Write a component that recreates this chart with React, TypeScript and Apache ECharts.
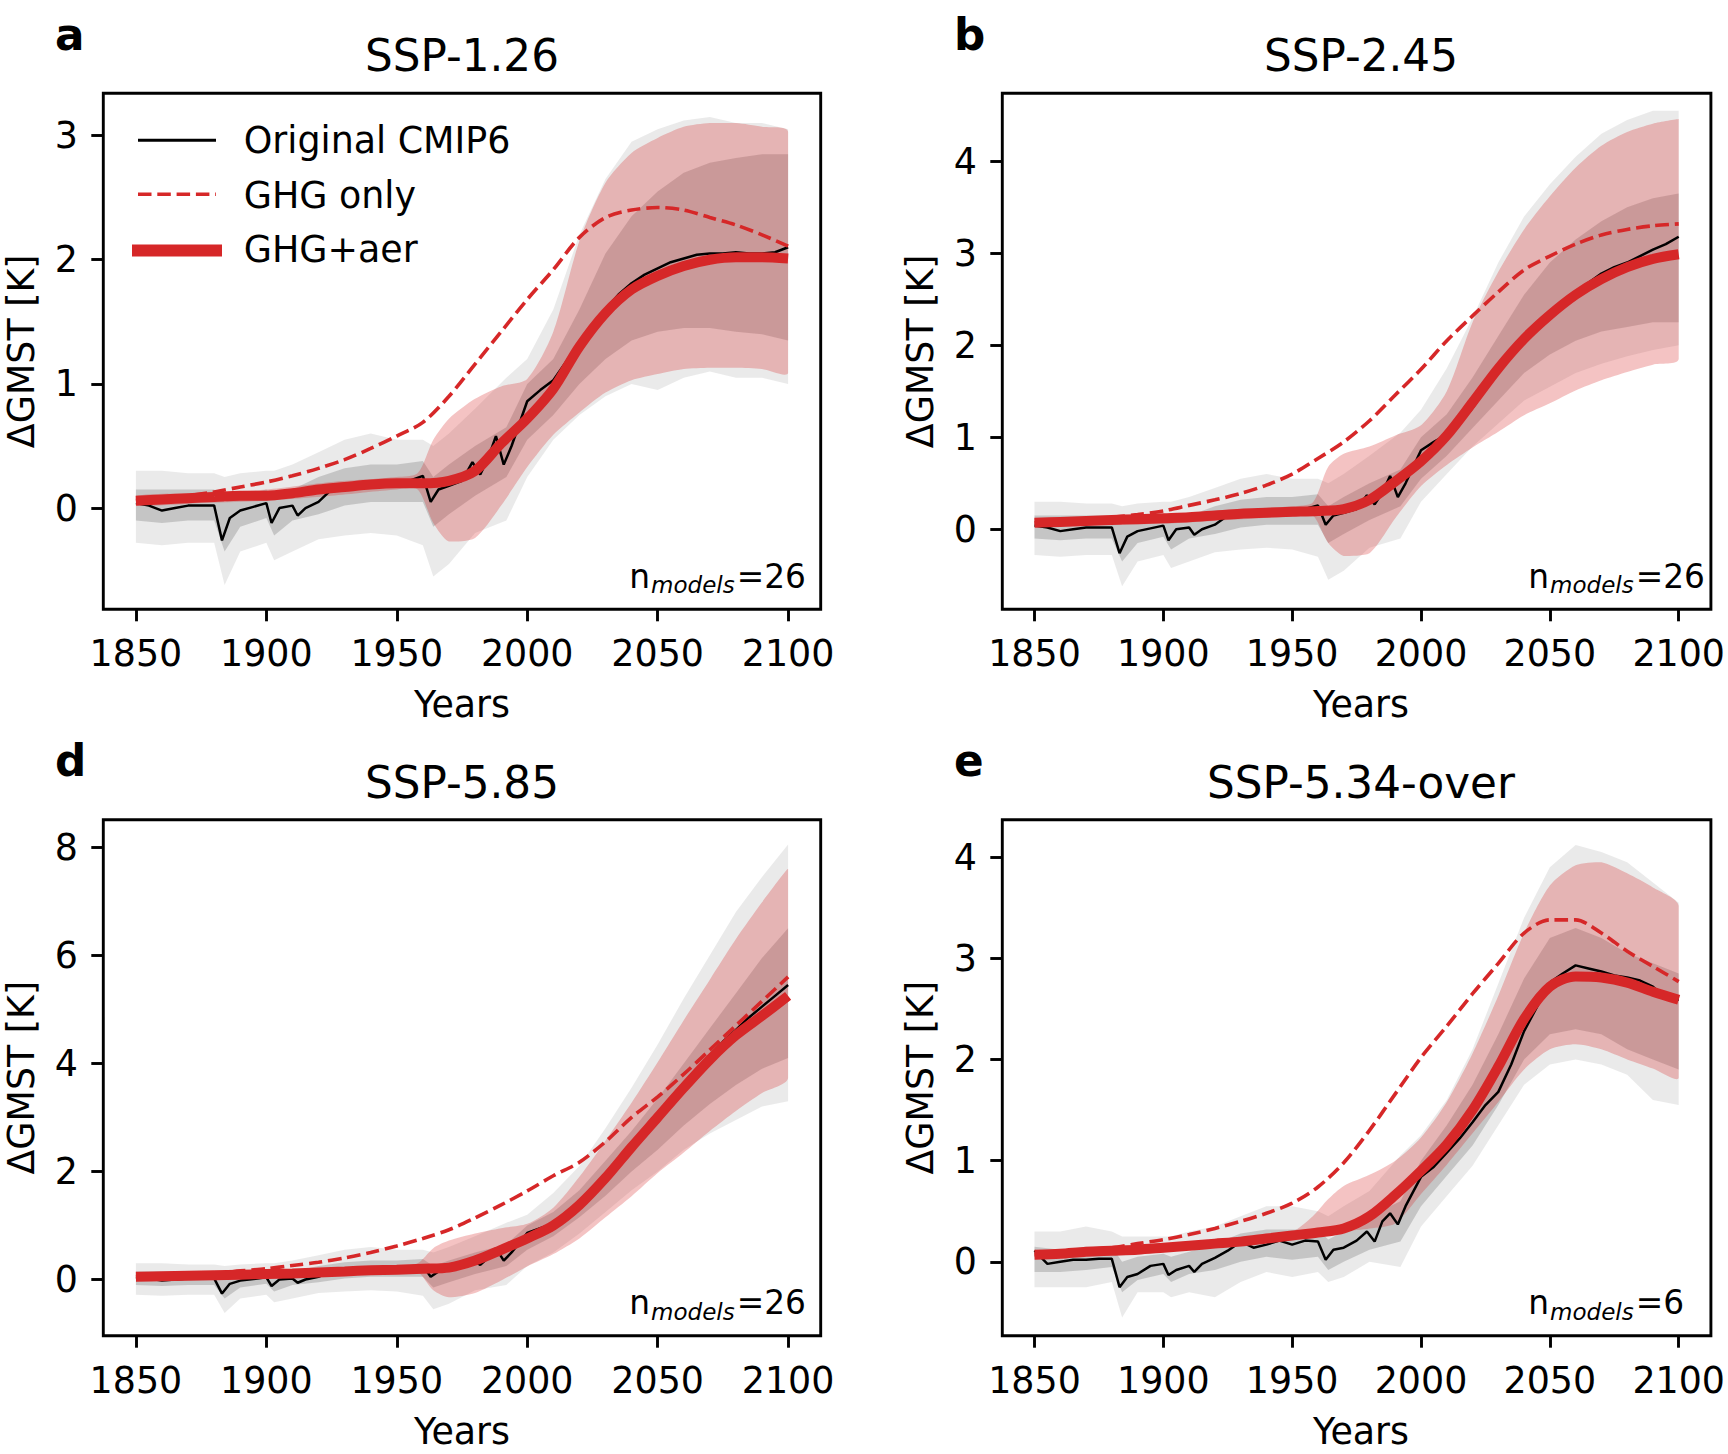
import React, { useEffect, useRef } from "react";
import * as echarts from "echarts";

const W = 1728;
const H = 1454;
const FONT = '"DejaVu Sans", "Liberation Sans", sans-serif';
const RED = "#d62728";

// ---------- axes ----------
const X_MIN = 1837.5;
const X_MAX = 2112.5;
const X_TICKS = [1850, 1900, 1950, 2000, 2050, 2100];

// ---------- shared year grids ----------
const SMOOTH_YEARS = [1850, 1860, 1870, 1880, 1890, 1900, 1910, 1920, 1930, 1940, 1950, 1960, 1970, 1980, 1990, 2000, 2010, 2020, 2030, 2040, 2050, 2060, 2070, 2080, 2090, 2100];
const BAND_YEARS = [1850, 1875, 1900, 1925, 1950, 1958, 1964, 1970, 1980, 1990, 2000, 2010, 2020, 2030, 2040, 2050, 2060, 2070, 2080, 2090, 2100];
const GRAY_YEARS_HIST = [1850, 1860, 1870, 1880, 1884, 1890, 1900, 1903, 1910, 1920, 1930, 1940, 1950, 1960, 1964, 1970, 1980, 1992];
const GRAY_YEARS_FUT = [2000, 2010, 2020, 2030, 2040, 2050, 2060, 2070, 2080, 2090, 2100];
const BLACK_YEARS_HIST = [1850, 1855, 1860, 1865, 1870, 1875, 1880, 1883, 1886, 1890, 1895, 1900, 1902, 1905, 1910, 1912, 1915, 1920, 1925, 1930, 1935, 1940, 1945, 1950, 1955, 1960, 1963, 1966, 1970, 1975, 1979, 1982, 1985, 1988, 1991, 1994, 2000, 2005, 2010];
const BLACK_YEARS_FUT = [2015, 2020, 2025, 2030, 2035, 2040, 2045, 2050, 2055, 2060, 2065, 2070, 2075, 2080, 2085, 2090, 2095, 2100];

// ---------- Original CMIP6 (black) ----------
const BLACK_HIST_26 = [0.04, 0.02, -0.02, 0.0, 0.02, 0.02, 0.02, -0.26, -0.08, -0.02, 0.01, 0.04, -0.12, 0.0, 0.02, -0.06, 0.0, 0.05, 0.15, 0.17, 0.18, 0.19, 0.19, 0.21, 0.22, 0.26, 0.05, 0.15, 0.18, 0.22, 0.37, 0.27, 0.4, 0.58, 0.35, 0.5, 0.86, 0.95, 1.03];
const BLACK_FUT_126 = [1.18, 1.33, 1.48, 1.6, 1.72, 1.81, 1.88, 1.93, 1.98, 2.01, 2.04, 2.05, 2.05, 2.06, 2.05, 2.05, 2.06, 2.1];
const BLACK_FUT_245 = [1.15, 1.32, 1.52, 1.72, 1.9, 2.05, 2.2, 2.33, 2.46, 2.58, 2.68, 2.78, 2.85, 2.9, 2.97, 3.04, 3.1, 3.18];
const BLACK_FUT_585 = [1.15, 1.35, 1.6, 1.88, 2.15, 2.45, 2.75, 3.05, 3.35, 3.62, 3.9, 4.15, 4.4, 4.62, 4.85, 5.05, 5.25, 5.45];
const BLACK_HIST_6 = [0.11, -0.02, 0.0, 0.02, 0.02, 0.03, 0.03, -0.25, -0.15, -0.12, -0.04, -0.02, -0.13, -0.08, -0.04, -0.1, -0.02, 0.04, 0.11, 0.2, 0.14, 0.17, 0.21, 0.17, 0.21, 0.2, 0.02, 0.12, 0.14, 0.21, 0.3, 0.2, 0.4, 0.48, 0.37, 0.55, 0.84, 0.94, 1.08];
const BLACK_FUT_534 = [1.22, 1.38, 1.55, 1.68, 1.95, 2.28, 2.52, 2.76, 2.85, 2.93, 2.9, 2.87, 2.83, 2.81, 2.78, 2.72, 2.6, 2.59];

// ---------- GHG only (dashed) ----------
const GHG_126 = [0.06, 0.08, 0.1, 0.13, 0.17, 0.21, 0.26, 0.32, 0.39, 0.48, 0.58, 0.69, 0.9, 1.16, 1.42, 1.68, 1.92, 2.18, 2.34, 2.4, 2.42, 2.4, 2.34, 2.28, 2.2, 2.11];
const GHG_245 = [0.07, 0.09, 0.11, 0.13, 0.16, 0.2, 0.26, 0.32, 0.39, 0.48, 0.6, 0.77, 0.95, 1.18, 1.46, 1.74, 2.05, 2.32, 2.58, 2.82, 2.97, 3.1, 3.2, 3.26, 3.3, 3.32];
const GHG_585 = [0.05, 0.07, 0.09, 0.11, 0.16, 0.2, 0.26, 0.32, 0.4, 0.5, 0.62, 0.76, 0.92, 1.14, 1.38, 1.64, 1.92, 2.17, 2.55, 3.0, 3.38, 3.8, 4.25, 4.7, 5.15, 5.6];
const GHG_534 = [0.07, 0.09, 0.12, 0.14, 0.18, 0.22, 0.27, 0.33, 0.4, 0.48, 0.58, 0.74, 0.98, 1.3, 1.66, 2.02, 2.33, 2.65, 2.95, 3.25, 3.38, 3.38, 3.25, 3.07, 2.92, 2.77];

// ---------- GHG+aer (thick red) ----------
const AER_126 = [0.06, 0.07, 0.08, 0.09, 0.1, 0.1, 0.12, 0.15, 0.17, 0.19, 0.2, 0.2, 0.22, 0.3, 0.52, 0.72, 0.96, 1.3, 1.57, 1.76, 1.87, 1.95, 2.0, 2.02, 2.02, 2.01];
const AER_245 = [0.07, 0.08, 0.09, 0.1, 0.11, 0.12, 0.13, 0.15, 0.17, 0.18, 0.19, 0.2, 0.22, 0.32, 0.52, 0.74, 1.02, 1.38, 1.75, 2.07, 2.33, 2.55, 2.72, 2.85, 2.94, 2.99];
const AER_585 = [0.05, 0.06, 0.07, 0.08, 0.09, 0.1, 0.11, 0.13, 0.15, 0.17, 0.18, 0.2, 0.22, 0.35, 0.55, 0.76, 1.0, 1.38, 1.88, 2.45, 3.0, 3.55, 4.07, 4.52, 4.88, 5.25];
const AER_534 = [0.07, 0.08, 0.1, 0.11, 0.12, 0.14, 0.16, 0.18, 0.2, 0.23, 0.26, 0.29, 0.33, 0.45, 0.66, 0.9, 1.16, 1.5, 1.93, 2.4, 2.72, 2.82, 2.81, 2.76, 2.67, 2.59];

// ---------- GHG+aer spread (pink band) ----------
const BAND_LO_126 = [0.02, 0.04, 0.06, 0.1, 0.15, 0.15, -0.12, -0.27, -0.24, 0.02, 0.33, 0.59, 0.77, 0.93, 1.03, 1.08, 1.12, 1.13, 1.13, 1.12, 1.09];
const BAND_HI_126 = [0.1, 0.12, 0.15, 0.21, 0.25, 0.28, 0.55, 0.72, 0.88, 0.98, 1.04, 1.42, 2.15, 2.62, 2.86, 2.98, 3.07, 3.1, 3.1, 3.07, 3.03];
const BAND_LO_245 = [0.03, 0.05, 0.06, 0.1, 0.14, 0.15, -0.15, -0.29, -0.26, 0.12, 0.47, 0.7, 0.89, 1.06, 1.24, 1.37, 1.51, 1.62, 1.71, 1.79, 1.85];
const BAND_HI_245 = [0.11, 0.13, 0.16, 0.21, 0.25, 0.29, 0.68, 0.82, 0.9, 1.02, 1.13, 1.5, 2.25, 2.8, 3.26, 3.62, 3.93, 4.17, 4.32, 4.41, 4.46];
const BAND_LO_585 = [0.0, 0.02, 0.04, 0.08, 0.12, 0.14, -0.2, -0.33, -0.25, -0.02, 0.24, 0.47, 0.76, 1.15, 1.54, 1.97, 2.35, 2.75, 3.12, 3.45, 3.73];
const BAND_HI_585 = [0.1, 0.12, 0.15, 0.2, 0.25, 0.3, 0.58, 0.72, 0.85, 0.95, 1.03, 1.33, 1.9, 2.57, 3.27, 4.02, 4.8, 5.55, 6.3, 6.98, 7.6];
const BAND_LO_534 = [0.05, 0.09, 0.13, 0.18, 0.24, 0.25, 0.27, 0.3, 0.33, 0.38, 0.67, 0.96, 1.27, 1.58, 1.9, 2.1, 2.15, 2.1, 2.0, 1.91, 1.82];
const BAND_HI_534 = [0.1, 0.13, 0.17, 0.22, 0.3, 0.45, 0.62, 0.75, 0.86, 1.0, 1.23, 1.58, 2.06, 2.63, 3.25, 3.72, 3.92, 3.95, 3.84, 3.7, 3.52];

// ---------- individual models (gray cloud: outer envelope and dense core) ----------
const GRAY_OUT_LO_HIST_26 = [-0.28, -0.3, -0.28, -0.28, -0.62, -0.35, -0.28, -0.42, -0.35, -0.25, -0.22, -0.2, -0.22, -0.3, -0.55, -0.45, -0.2, -0.1];
const GRAY_OUT_HI_HIST_26 = [0.3, 0.3, 0.28, 0.28, 0.25, 0.28, 0.3, 0.3, 0.35, 0.45, 0.55, 0.6, 0.55, 0.55, 0.5, 0.6, 0.8, 1.05];
const GRAY_IN_LO_HIST_26 = [-0.1, -0.12, -0.1, -0.1, -0.35, -0.15, -0.08, -0.22, -0.1, -0.05, 0.02, 0.05, 0.05, 0.05, -0.15, -0.05, 0.1, 0.25];
const GRAY_IN_HI_HIST_26 = [0.15, 0.15, 0.15, 0.15, 0.05, 0.1, 0.15, 0.08, 0.15, 0.25, 0.32, 0.35, 0.35, 0.38, 0.25, 0.35, 0.5, 0.65];
const GRAY_OUT_LO_HIST_6 = [-0.25, -0.25, -0.25, -0.2, -0.55, -0.3, -0.3, -0.35, -0.3, -0.35, -0.2, -0.1, -0.15, -0.1, -0.2, -0.15, 0.0, -0.05];
const GRAY_OUT_HI_HIST_6 = [0.3, 0.3, 0.35, 0.3, 0.25, 0.25, 0.25, 0.25, 0.3, 0.35, 0.45, 0.55, 0.55, 0.5, 0.45, 0.55, 0.7, 1.05];
const GRAY_IN_LO_HIST_6 = [-0.1, -0.1, -0.08, -0.05, -0.3, -0.18, -0.12, -0.2, -0.12, -0.08, 0.0, 0.05, 0.02, 0.05, -0.08, 0.0, 0.12, 0.2];
const GRAY_IN_HI_HIST_6 = [0.15, 0.12, 0.15, 0.15, 0.0, 0.05, 0.08, 0.05, 0.1, 0.18, 0.28, 0.32, 0.32, 0.32, 0.22, 0.3, 0.45, 0.6];

const GRAY_OUT_LO_126 = [0.25, 0.55, 0.75, 0.9, 1.0, 0.95, 1.05, 1.1, 1.05, 1.05, 1.0];
const GRAY_OUT_HI_126 = [1.2, 1.6, 2.2, 2.65, 2.95, 3.05, 3.12, 3.15, 3.1, 3.1, 3.05];
const GRAY_IN_LO_126 = [0.55, 0.75, 1.0, 1.2, 1.35, 1.42, 1.45, 1.45, 1.42, 1.4, 1.35];
const GRAY_IN_HI_126 = [1.0, 1.2, 1.6, 2.05, 2.35, 2.55, 2.7, 2.78, 2.82, 2.85, 2.85];
const GRAY_OUT_LO_245 = [0.3, 0.6, 0.9, 1.15, 1.4, 1.55, 1.7, 1.8, 1.88, 1.95, 2.0];
const GRAY_OUT_HI_245 = [1.3, 1.75, 2.3, 2.9, 3.4, 3.75, 4.05, 4.3, 4.45, 4.55, 4.55];
const GRAY_IN_LO_245 = [0.55, 0.8, 1.1, 1.4, 1.7, 1.9, 2.05, 2.15, 2.2, 2.25, 2.25];
const GRAY_IN_HI_245 = [1.0, 1.25, 1.65, 2.1, 2.55, 2.9, 3.15, 3.35, 3.5, 3.6, 3.65];
const GRAY_OUT_LO_585 = [0.25, 0.5, 0.85, 1.25, 1.65, 2.0, 2.4, 2.7, 2.95, 3.2, 3.3];
const GRAY_OUT_HI_585 = [1.2, 1.6, 2.1, 2.8, 3.55, 4.35, 5.2, 6.0, 6.8, 7.45, 8.05];
const GRAY_IN_LO_585 = [0.55, 0.8, 1.15, 1.55, 2.0, 2.4, 2.85, 3.25, 3.6, 3.9, 4.1];
const GRAY_IN_HI_585 = [1.0, 1.25, 1.65, 2.2, 2.75, 3.35, 4.0, 4.65, 5.3, 5.95, 6.5];
const GRAY_OUT_LO_534 = [0.35, 0.65, 0.95, 1.35, 1.75, 1.95, 2.0, 1.95, 1.85, 1.6, 1.55];
const GRAY_OUT_HI_534 = [1.25, 1.6, 2.1, 2.75, 3.4, 3.9, 4.12, 4.05, 3.95, 3.75, 3.55];
const GRAY_IN_LO_534 = [0.55, 0.85, 1.15, 1.55, 2.0, 2.25, 2.3, 2.25, 2.1, 2.0, 1.9];
const GRAY_IN_HI_534 = [1.0, 1.35, 1.75, 2.25, 2.8, 3.2, 3.3, 3.2, 3.05, 2.95, 2.85];

// ---------- panels ----------
const GRID_W = 717.4;
const GRID_H = 516;
const COL_LEFT = [103.3, 1002.3];
const ROW_TOP = [93.3, 819.7];

const PANELS = [
  {
    letter: "a", title: "SSP-1.26", col: 0, row: 0, yMin: -0.815, yMax: 3.34, yTicks: [0, 1, 2, 3], n: 26, legend: true,
    blackHist: BLACK_HIST_26, blackFut: BLACK_FUT_126, ghg: GHG_126, aer: AER_126, bandLo: BAND_LO_126, bandHi: BAND_HI_126,
    gOutLo: [GRAY_OUT_LO_HIST_26, GRAY_OUT_LO_126], gOutHi: [GRAY_OUT_HI_HIST_26, GRAY_OUT_HI_126],
    gInLo: [GRAY_IN_LO_HIST_26, GRAY_IN_LO_126], gInHi: [GRAY_IN_HI_HIST_26, GRAY_IN_HI_126],
  },
  {
    letter: "b", title: "SSP-2.45", col: 1, row: 0, yMin: -0.87, yMax: 4.74, yTicks: [0, 1, 2, 3, 4], n: 26, legend: false,
    blackHist: BLACK_HIST_26, blackFut: BLACK_FUT_245, ghg: GHG_245, aer: AER_245, bandLo: BAND_LO_245, bandHi: BAND_HI_245,
    gOutLo: [GRAY_OUT_LO_HIST_26, GRAY_OUT_LO_245], gOutHi: [GRAY_OUT_HI_HIST_26, GRAY_OUT_HI_245],
    gInLo: [GRAY_IN_LO_HIST_26, GRAY_IN_LO_245], gInHi: [GRAY_IN_HI_HIST_26, GRAY_IN_HI_245],
  },
  {
    letter: "d", title: "SSP-5.85", col: 0, row: 1, yMin: -1.04, yMax: 8.51, yTicks: [0, 2, 4, 6, 8], n: 26, legend: false,
    blackHist: BLACK_HIST_26, blackFut: BLACK_FUT_585, ghg: GHG_585, aer: AER_585, bandLo: BAND_LO_585, bandHi: BAND_HI_585,
    gOutLo: [GRAY_OUT_LO_HIST_26, GRAY_OUT_LO_585], gOutHi: [GRAY_OUT_HI_HIST_26, GRAY_OUT_HI_585],
    gInLo: [GRAY_IN_LO_HIST_26, GRAY_IN_LO_585], gInHi: [GRAY_IN_HI_HIST_26, GRAY_IN_HI_585],
  },
  {
    letter: "e", title: "SSP-5.34-over", col: 1, row: 1, yMin: -0.73, yMax: 4.37, yTicks: [0, 1, 2, 3, 4], n: 6, legend: false,
    blackHist: BLACK_HIST_6, blackFut: BLACK_FUT_534, ghg: GHG_534, aer: AER_534, bandLo: BAND_LO_534, bandHi: BAND_HI_534,
    gOutLo: [GRAY_OUT_LO_HIST_6, GRAY_OUT_LO_534], gOutHi: [GRAY_OUT_HI_HIST_6, GRAY_OUT_HI_534],
    gInLo: [GRAY_IN_LO_HIST_6, GRAY_IN_LO_534], gInHi: [GRAY_IN_HI_HIST_6, GRAY_IN_HI_534],
  },
];

const pairs = (xs: number[], ys: number[]) => xs.map((x, i) => [x, ys[i]]);

// filled region between two curves, drawn through the axis scales (api.coord)
function bandSeries(i: number, years: number[], lo: number[], hi: number[], color: string, smooth: number) {
  return {
    type: "custom", xAxisIndex: i, yAxisIndex: i, silent: true, clip: true,
    data: [[years[0], lo[0]]],
    renderItem: (_params: any, api: any) => {
      const pts: number[][] = [];
      for (let k = 0; k < years.length; k++) pts.push(api.coord([years[k], hi[k]]));
      for (let k = years.length - 1; k >= 0; k--) pts.push(api.coord([years[k], lo[k]]));
      let minX = Infinity, minY = Infinity, maxX = -Infinity, maxY = -Infinity;
      pts.forEach(([x, y]) => {
        minX = Math.min(minX, x); maxX = Math.max(maxX, x);
        minY = Math.min(minY, y); maxY = Math.max(maxY, y);
      });
      return {
        type: "polygon",
        shape: { points: pts, smooth, smoothConstraint: smooth ? [[minX, minY], [maxX, maxY]] : undefined },
        style: { fill: color, stroke: "none" },
      };
    },
  };
}

function textWidth(text: string, font: string) {
  const ctx = document.createElement("canvas").getContext("2d")!;
  ctx.font = font;
  return ctx.measureText(text).width;
}

function buildOption() {
  const grids: any[] = [];
  const xAxes: any[] = [];
  const yAxes: any[] = [];
  const series: any[] = [];
  const graphics: any[] = [];
  const grayYears = GRAY_YEARS_HIST.concat(GRAY_YEARS_FUT);
  const blackYears = BLACK_YEARS_HIST.concat(BLACK_YEARS_FUT);

  PANELS.forEach((p, i) => {
    const left = COL_LEFT[p.col];
    const top = ROW_TOP[p.row];
    grids.push({ left, top, width: GRID_W, height: GRID_H, show: true, borderColor: "#000", borderWidth: 2.9, backgroundColor: "transparent", containLabel: false });
    xAxes.push({
      type: "value", gridIndex: i, min: X_MIN, max: X_MAX, position: "bottom",
      axisLine: { show: false, onZero: false }, splitLine: { show: false },
      axisTick: { show: true, customValues: X_TICKS, length: 12, lineStyle: { color: "#000", width: 2.9 } },
      axisLabel: { customValues: X_TICKS, fontSize: 36.4, color: "#000", fontFamily: FONT, margin: 26.5, formatter: (v: number) => String(v) },
    });
    yAxes.push({
      type: "value", gridIndex: i, min: p.yMin, max: p.yMax, position: "left",
      axisLine: { show: false, onZero: false }, splitLine: { show: false },
      axisTick: { show: true, customValues: p.yTicks, length: 12, lineStyle: { color: "#000", width: 2.9 } },
      axisLabel: { customValues: p.yTicks, fontSize: 36.4, color: "#000", fontFamily: FONT, margin: 25.5, formatter: (v: number) => String(v) },
    });

    series.push(bandSeries(i, grayYears, p.gOutLo[0].concat(p.gOutLo[1]), p.gOutHi[0].concat(p.gOutHi[1]), "rgba(128,128,128,0.17)", 0));
    series.push(bandSeries(i, grayYears, p.gInLo[0].concat(p.gInLo[1]), p.gInHi[0].concat(p.gInHi[1]), "rgba(100,100,100,0.27)", 0));
    series.push(bandSeries(i, BAND_YEARS, p.bandLo, p.bandHi, "rgba(214,39,40,0.28)", 0.25));

    series.push({
      type: "line", xAxisIndex: i, yAxisIndex: i, symbol: "none", silent: true,
      data: pairs(blackYears, p.blackHist.concat(p.blackFut)),
      lineStyle: { color: "#000", width: 2.5 },
    });
    series.push({
      type: "line", xAxisIndex: i, yAxisIndex: i, symbol: "none", silent: true, smooth: 0.3,
      data: pairs(SMOOTH_YEARS, p.ghg),
      lineStyle: { color: RED, width: 3.6, type: [13.5, 5.8] },
    });
    series.push({
      type: "line", xAxisIndex: i, yAxisIndex: i, symbol: "none", silent: true, smooth: 0.3,
      data: pairs(SMOOTH_YEARS, p.aer),
      lineStyle: { color: RED, width: 10 },
    });

    const txt = (x: number, y: number, text: string, extra: any = {}, rotation = 0) => ({
      type: "text", x, y, rotation, silent: true,
      style: {
        text, fill: "#000", fontFamily: FONT, fontSize: 36.4,
        align: "center", verticalAlign: "middle", textAlign: "center", textVerticalAlign: "middle",
        ...extra,
      },
    });

    // title, panel letter, axis names
    graphics.push(txt(left + GRID_W / 2, top - 37.7, p.title, { fontSize: 43.7 }));
    graphics.push(txt(left - 48.3, top - 58.9, p.letter, { fontSize: 43.7, fontWeight: "bold", align: "left", textAlign: "left" }));
    graphics.push(txt(left - 82, top + GRID_H / 2, "ΔGMST [K]", {}, Math.PI / 2));
    graphics.push(txt(left + GRID_W / 2, top + GRID_H + 95.5, "Years"));

    // n_models annotation
    const fMain = 32.8;
    const fSub = 23;
    const base = top + GRID_H - 21;
    const x0 = left + 526;
    const wN = textWidth("n", `${fMain}px "DejaVu Sans"`);
    const wSub = textWidth("models", `italic ${fSub}px "DejaVu Sans"`);
    graphics.push(txt(x0, base - 0.346 * fMain, "n", { fontSize: fMain, align: "left", textAlign: "left" }));
    graphics.push(txt(x0 + wN + 1, base + 5 - 0.346 * fSub, "models", { fontSize: fSub, fontStyle: "italic", align: "left", textAlign: "left" }));
    graphics.push(txt(x0 + wN + wSub + 3, base - 0.346 * fMain, `=${p.n}`, { fontSize: fMain, align: "left", textAlign: "left" }));

    if (p.legend) {
      const hx1 = left + 34.7;
      const hx2 = left + 112.7;
      graphics.push({ type: "line", silent: true, shape: { x1: hx1, y1: top + 47, x2: hx2, y2: top + 47 }, style: { stroke: "#000", lineWidth: 3 } });
      graphics.push({ type: "line", silent: true, shape: { x1: hx1, y1: top + 101, x2: hx2, y2: top + 101 }, style: { stroke: RED, lineWidth: 3.6, lineDash: [13.5, 5.8] } });
      graphics.push({ type: "rect", silent: true, shape: { x: hx1 - 6, y: top + 157.2 - 6, width: hx2 - hx1 + 12, height: 12 }, style: { fill: RED } });
      const tx = left + 140.4;
      graphics.push(txt(tx, top + 46.7, "Original CMIP6", { align: "left", textAlign: "left" }));
      graphics.push(txt(tx, top + 101.7, "GHG only", { align: "left", textAlign: "left" }));
      graphics.push(txt(tx, top + 156.2, "GHG+aer", { align: "left", textAlign: "left" }));
    }
  });

  return {
    animation: false,
    backgroundColor: "#fff",
    textStyle: { fontFamily: FONT },
    grid: grids,
    xAxis: xAxes,
    yAxis: yAxes,
    series,
    graphic: { elements: graphics },
  };
}

export default function App() {
  const ref = useRef<HTMLDivElement>(null);
  useEffect(() => {
    document.body.style.margin = "0";
    const chart = echarts.init(ref.current!, null, { renderer: "svg", width: W, height: H });
    chart.setOption(buildOption() as any);
    return () => chart.dispose();
  }, []);
  return <div ref={ref} style={{ width: W, height: H }} />;
}
